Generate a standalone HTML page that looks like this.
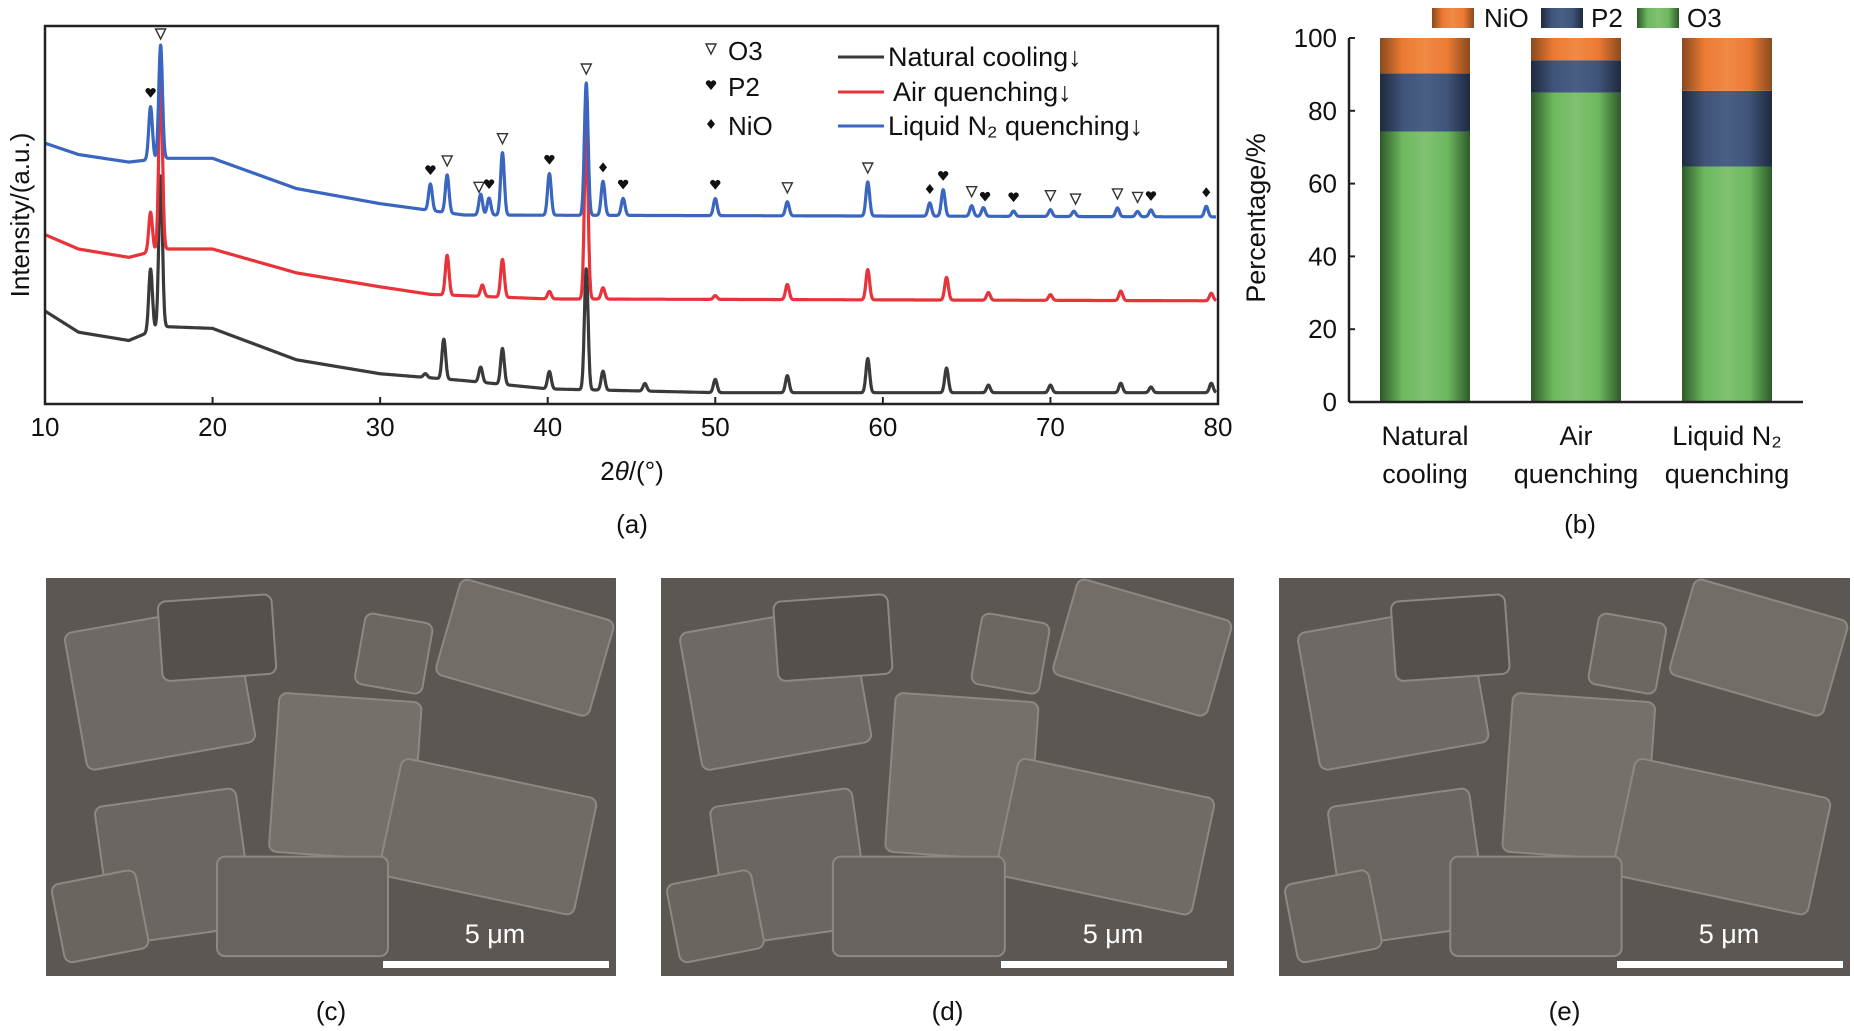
<!DOCTYPE html>
<html><head><meta charset="utf-8"><style>
body{margin:0;background:#fff;}
svg{display:block;font-family:"Liberation Sans",Arial,sans-serif;}
</style></head><body>
<svg id="fig" width="1854" height="1031" viewBox="0 0 1854 1031" xmlns="http://www.w3.org/2000/svg">
<defs>
<linearGradient id="gO" x1="0" x2="1"><stop offset="0" stop-color="#2f5a2a"/><stop offset="0.25" stop-color="#6db85f"/><stop offset="0.5" stop-color="#80c172"/><stop offset="0.75" stop-color="#6db85f"/><stop offset="1" stop-color="#2f5a2a"/></linearGradient>
<linearGradient id="gP" x1="0" x2="1"><stop offset="0" stop-color="#1e2a3e"/><stop offset="0.25" stop-color="#3f5478"/><stop offset="0.5" stop-color="#4a5f85"/><stop offset="0.75" stop-color="#3f5478"/><stop offset="1" stop-color="#1e2a3e"/></linearGradient>
<linearGradient id="gN" x1="0" x2="1"><stop offset="0" stop-color="#8a4a1e"/><stop offset="0.25" stop-color="#ec7a33"/><stop offset="0.5" stop-color="#f08a45"/><stop offset="0.75" stop-color="#ec7a33"/><stop offset="1" stop-color="#8a4a1e"/></linearGradient>
</defs>
<g id="xrd"></g>
<g id="bars"></g>
<g id="sem"></g>
</svg>
<script>
// ---------- XRD data ----------
const xrdXTicks = [10,20,30,40,50,60,70,80];
// baseline anchors [2theta, intensity]
const blackBase = [[10,24.6],[12,19],[15,16.8],[17,20.5],[20,20],[25,11.7],[30,8],[35,6.2],[40,4],[50,3],[80,3]];
const redBase   = [[10,44.8],[12,41],[15,38.8],[17,41],[20,41],[25,34.7],[30,31],[33,29],[40,27.8],[80,27.3]];
const blueBase  = [[10,69],[12,66],[15,64],[17,65],[20,65],[25,57],[30,53],[35,50],[80,49.5]];
// peaks [2theta, height]
const blackPeaks = [[16.3,16.5],[16.9,40],[32.7,1],[33.8,10.5],[36,4],[37.3,9.5],[40.1,4.6],[42.3,32],[43.3,5],[45.8,2],[50,3.5],[54.3,4.5],[59.1,9],[63.8,6.5],[66.3,2],[70,2],[74.2,2.5],[76,1.5],[79.6,2.5]];
const redPeaks   = [[16.3,10.5],[16.9,45],[34,10.5],[36.1,3],[37.3,10],[40.1,2],[42.3,45],[43.3,3],[50,1],[54.3,4],[59.1,8],[63.8,6],[66.3,2],[70,1.5],[74.2,2.5],[79.6,2]];
const bluePeaks  = [[16.3,14],[16.9,30],[33,7],[34,10],[36,5.5],[36.5,4.5],[37.3,16.5],[40.1,11],[42.3,35],[43.3,9],[44.5,4.5],[50,4.5],[54.3,3.7],[59.1,9],[62.8,3.5],[63.6,7],[65.3,2.8],[66,2.3],[67.8,1.4],[70,1.8],[71.4,1.4],[74,2.3],[75.2,1.4],[76,1.8],[79.3,2.8]];
// phase markers [2theta, type]
const markers = [[16.3,'P2'],[16.9,'O3'],[33,'P2'],[34,'O3'],[35.9,'O3'],[36.5,'P2'],[37.3,'O3'],[40.1,'P2'],[42.3,'O3'],[43.3,'NiO'],[44.5,'P2'],[50,'P2'],[54.3,'O3'],[59.1,'O3'],[62.8,'NiO'],[63.6,'P2'],[65.3,'O3'],[66.1,'P2'],[67.8,'P2'],[70,'O3'],[71.5,'O3'],[74,'O3'],[75.2,'O3'],[76,'P2'],[79.3,'NiO']];
// ---------- Bar data ----------
const barCats = ['Natural cooling','Air quenching','Liquid N2 quenching'];
const o3Vals  = [74.3,85,64.7];
const p2Vals  = [16,8.9,20.8];
const nioVals = [9.7,6.1,14.5];
const barYTicks = [0,20,40,60,80,100];

const NS='http://www.w3.org/2000/svg';
function mk(parent,tag,attrs,text){const e=document.createElementNS(NS,tag);for(const k in attrs)e.setAttribute(k,attrs[k]);if(text!==undefined)e.textContent=text;parent.appendChild(e);return e;}

// XRD axes
const X0=45,X1=1218,Y0=404,Y1=26;
const xs=v=>X0+(v-10)/70*(X1-X0);
const ys=v=>Y0-v/100*(Y0-Y1);
const xrd=document.getElementById('xrd');
function baseAt(b,x){for(let i=0;i<b.length-1;i++){if(x>=b[i][0]&&x<=b[i+1][0]){const t=(x-b[i][0])/(b[i+1][0]-b[i][0]);return b[i][1]+t*(b[i+1][1]-b[i][1]);}}return b[b.length-1][1];}
function val(b,p,x){let v=baseAt(b,x);for(const [c,h] of p){const s=0.11;v+=h*Math.exp(-((x-c)*(x-c))/(2*s*s));}return v;}
function curve(b,p,color,name){let d='';for(let x=10;x<=79.9;x+=0.02){d+=(d?'L':'M')+xs(x).toFixed(1)+','+Math.max(ys(val(b,p,x)),Y1+2).toFixed(1);}
const e=mk(xrd,'path',{d:d,fill:'none',stroke:color,'stroke-width':3.2,'stroke-linejoin':'round'});

}
curve(blackBase,blackPeaks,'#3a3a3a','natural-cooling-curve');
curve(redBase,redPeaks,'#e8333a','air-quenching-curve');
curve(blueBase,bluePeaks,'#3a66c0','liquid-n2-curve');
const frame=mk(xrd,'rect',{x:X0,y:Y1,width:X1-X0,height:Y0-Y1,fill:'none',stroke:'#222','stroke-width':2.5});


for(const t of xrdXTicks){mk(xrd,'line',{x1:xs(t),x2:xs(t),y1:Y0,y2:Y0-7,stroke:'#222','stroke-width':2});
const tl=mk(xrd,'text',{x:xs(t),y:436,'text-anchor':'middle','font-size':26,fill:'#111'},t);

}
const xt=mk(xrd,'text',{x:632,y:480,'text-anchor':'middle','font-size':26,fill:'#111'});


xt.innerHTML='2<tspan font-style="italic">θ</tspan>/(°)';
const yt=mk(xrd,'text',{x:0,y:0,transform:'translate(29,215) rotate(-90)','text-anchor':'middle','font-size':26,fill:'#111'},'Intensity/(a.u.)');


function marker(g,type,cx,cy){
 if(type==='O3')return mk(g,'path',{d:`M${cx-5},${cy-5}L${cx+5},${cy-5}L${cx},${cy+5}Z`,fill:'#fff',stroke:'#333','stroke-width':1.4});
 if(type==='P2')return mk(g,'path',{d:`M${cx},${cy+5}L${cx-5},${cy-1}A2.6,2.6 0 0 1 ${cx},${cy-3}A2.6,2.6 0 0 1 ${cx+5},${cy-1}Z`,fill:'#111'});
 return mk(g,'path',{d:`M${cx},${cy-5}L${cx+4},${cy}L${cx},${cy+5}L${cx-4},${cy}Z`,fill:'#111'});}
for(const [x,t] of markers){let top=ys(val(blueBase,bluePeaks,x));let y=Math.max(top-14,40);if(x>16.6&&x<17.2)y=Y1+8;
const m=marker(xrd,t,xs(x),y);

}
// legend
const legSym=[['O3',51],['P2',87],['NiO',126]];
for(const [t,y] of legSym){marker(xrd,t,711,y-2);const lt=mk(xrd,'text',{x:728,y:y+9,'font-size':26,fill:'#111'},t);

}
const legSer=[['Natural cooling↓','#3a3a3a',57],['Air quenching↓','#e8333a',92],['Liquid N₂ quenching↓','#3a66c0',126]];
for(const [t,c,y] of legSer){mk(xrd,'line',{x1:838,x2:884,y1:y,y2:y,stroke:c,'stroke-width':3});
const lt=mk(xrd,'text',{x:(c==='#e8333a'?893:888),y:y+9,'font-size':27,fill:'#111'},t);

}
const ca=mk(xrd,'text',{x:632,y:533,'text-anchor':'middle','font-size':26,fill:'#111'},'(a)');



// Bars
const bars=document.getElementById('bars');
const BX0=1349,BX1=1803,BY0=402,BY1=38;
const by=v=>BY0-v/100*(BY0-BY1);
const barLeft=[1380,1531,1682],BW=90;
for(let i=0;i<barCats.length;i++){
 const segs=[[0,o3Vals[i],'url(#gO)','o3'],[o3Vals[i],o3Vals[i]+p2Vals[i],'url(#gP)','p2'],[o3Vals[i]+p2Vals[i],o3Vals[i]+p2Vals[i]+nioVals[i],'url(#gN)','nio']];
 for(const [a,b,f,n] of segs){const r=mk(bars,'rect',{x:barLeft[i],y:by(b),width:BW,height:by(a)-by(b),fill:f});
 
 }
}
mk(bars,'line',{x1:BX0,x2:BX0,y1:BY1,y2:BY0,stroke:'#222','stroke-width':2.5});
mk(bars,'line',{x1:BX0,x2:BX1,y1:BY0,y2:BY0,stroke:'#222','stroke-width':2.5});
for(const t of barYTicks){mk(bars,'line',{x1:BX0,x2:BX0+6,y1:by(t),y2:by(t),stroke:'#222','stroke-width':2});
const tl=mk(bars,'text',{x:1337,y:by(t)+9,'text-anchor':'end','font-size':26,fill:'#111'},t);

}
const byt=mk(bars,'text',{x:0,y:0,transform:'translate(1265,218) rotate(-90)','text-anchor':'middle','font-size':27,fill:'#111'},'Percentage/%');


const catLines=[['Natural','cooling'],['Air','quenching'],['Liquid N₂','quenching']];
for(let i=0;i<3;i++){const cx=barLeft[i]+BW/2;
 const l1=mk(bars,'text',{x:cx,y:445,'text-anchor':'middle','font-size':27,fill:'#111'},catLines[i][0]);
 
 
 mk(bars,'text',{x:cx,y:483,'text-anchor':'middle','font-size':27,fill:'#111'},catLines[i][1]);}
const bleg=[['NiO','url(#gN)',1432,1484],['P2','url(#gP)',1541,1591],['O3','url(#gO)',1637,1687]];
for(const [t,f,sx,tx] of bleg){mk(bars,'rect',{x:sx,y:8,width:42,height:20,fill:f});
const lt=mk(bars,'text',{x:tx,y:27,'font-size':26,fill:'#111'},t);

}
const cb=mk(bars,'text',{x:1580,y:533,'text-anchor':'middle','font-size':26,fill:'#111'},'(b)');



// SEM panels
const sem=document.getElementById('sem');
const panels=[[46,616,'(c)'],[661,1234,'(d)'],[1279,1850,'(e)']];
const shapes=[[0.05,0.1,0.3,0.35,'#6e6964'],[0.4,0.3,0.25,0.4,'#76706b'],[0.6,0.5,0.35,0.3,'#716b66'],[0.1,0.55,0.25,0.35,'#6b6661'],[0.7,0.05,0.28,0.25,'#736d68'],[0.3,0.7,0.3,0.25,'#68635e'],[0.2,0.05,0.2,0.2,'#55504c'],[0.02,0.75,0.15,0.2,'#6a655f'],[0.55,0.1,0.12,0.18,'#6d6762']];
for(const [x0,x1,cap] of panels){
 const w=x1-x0,h=398,y0=578;
 const r=mk(sem,'rect',{x:x0,y:y0,width:w,height:h,fill:'#5c5753'});
 
 
 for(const [a,b,c,d,f] of shapes){mk(sem,'rect',{x:x0+a*w,y:y0+b*h,width:c*w,height:d*h,fill:f,stroke:'#8e8883','stroke-width':2,rx:8,transform:`rotate(${(a*40-12).toFixed(0)} ${x0+(a+c/2)*w} ${y0+(b+d/2)*h})`});}
 mk(sem,'rect',{x:x1-233,y:961,width:226,height:7,fill:'#fff'});
 const st=mk(sem,'text',{x:x1-121,y:943,'text-anchor':'middle','font-size':27,fill:'#fff'},'5 μm');
 
 
 const c=mk(sem,'text',{x:(x0+x1)/2,y:1020,'text-anchor':'middle','font-size':26,fill:'#111'},cap);
 
 
}
mk(sem,'rect',{x:616,y:570,width:45,height:410,fill:'#fff'});
mk(sem,'rect',{x:1234,y:570,width:45,height:410,fill:'#fff'});
mk(sem,'rect',{x:0,y:560,width:46,height:420,fill:'#fff'});
mk(sem,'rect',{x:1850,y:560,width:10,height:420,fill:'#fff'});
mk(sem,'rect',{x:0,y:545,width:1854,height:33,fill:'#fff'});
mk(sem,'rect',{x:0,y:976,width:1854,height:20,fill:'#fff'});
</script>
</body></html>
